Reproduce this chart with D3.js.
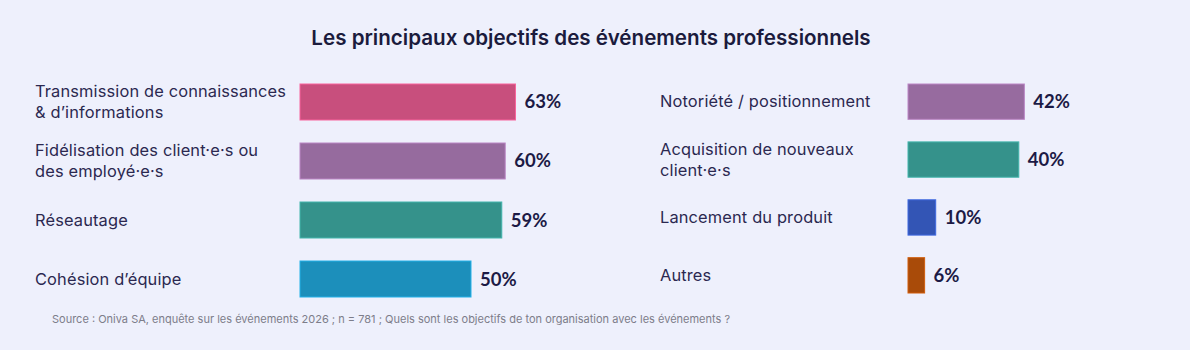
<!DOCTYPE html>
<html><head><meta charset="utf-8">
<script src="https://cdn.jsdelivr.net/npm/d3@7"></script>
<style>
html,body{margin:0;padding:0;background:#eef0fc;}
svg{display:block;}
</style></head>
<body>
<svg id="chart" width="1190" height="350"></svg>
<script>
const title = "Les principaux objectifs des événements professionnels";
const source = "Source : Oniva SA, enquête sur les événements 2026 ; n = 781 ; Quels sont les objectifs de ton organisation avec les événements ?";
const leftCats = ["Transmission de connaissances\n& d’informations", "Fidélisation des client·e·s ou\ndes employé·e·s", "Réseautage", "Cohésion d’équipe"];
const leftVals = [63, 60, 59, 50];
const leftColors = ["#c84f7d", "#966b9e", "#35928b", "#1c8fbb"];
const rightCats = ["Notoriété / positionnement", "Acquisition de nouveaux\nclient·e·s", "Lancement du produit", "Autres"];
const rightVals = [42, 40, 10, 6];
const rightColors = ["#976b9f", "#35928b", "#3355b5", "#a94b09"];

const svg = d3.select("#chart");
svg.append("rect").attr("width",1190).attr("height",350).attr("fill","#eef0fc");

svg.append("text").attr("x",591).attr("y",45).attr("text-anchor","middle")
  .attr("font-family","Inter").attr("font-weight",600).attr("font-size",20.6)
  .attr("fill","#1b1b3d").text(title);

function panel(cats, vals, colors, cfg){
  const x = d3.scaleLinear().domain([0,100]).range([cfg.barX, cfg.barX + cfg.pxPer100]);
  const y = d3.scaleBand().domain(d3.range(cats.length)).range([cfg.top, cfg.bottom]).paddingInner(cfg.pad).paddingOuter(0);
  const g = svg.append("g");
  const rows = g.selectAll("g.row").data(cats.map((c,i)=>({c, v:vals[i], col:colors[i], i}))).join("g");
  rows.append("rect")
    .attr("x", x(0)).attr("y", d=>y(d.i)).attr("width", d=>x(d.v)-x(0)).attr("height", y.bandwidth())
    .attr("fill", d=>d.col).attr("stroke", d=>d3.color(d.col).brighter(0.6)).attr("stroke-width",1);
  rows.append("text")
    .attr("x", d=>x(d.v)+9).attr("y", d=>y(d.i)+y.bandwidth()/2+6.5)
    .attr("font-family","Lato").attr("font-weight",700).attr("font-size",18.5)
    .attr("fill","#1c1a45").text(d=>d.v+"%");
  rows.each(function(d){
    const lines = d.c.split("\n");
    const cy = y(d.i)+y.bandwidth()/2;
    const lh = 21;
    const t = d3.select(this).append("text")
      .attr("font-family","Inter").attr("font-size",16.4).attr("letter-spacing",0.15).attr("fill","#2b2850");
    lines.forEach((ln,k)=>{
      t.append("tspan").attr("x", cfg.labelX)
        .attr("y", cy + 5.5 + (k - (lines.length-1)/2)*lh).text(ln);
    });
  });
}
panel(leftCats, leftVals, leftColors, {barX:300, pxPer100:342, top:84, bottom:297, pad:0.39, labelX:35});
panel(rightCats, rightVals, rightColors, {barX:908, pxPer100:277, top:84, bottom:293, pad:0.39, labelX:660});

svg.append("text").attr("x",52).attr("y",323)
  .attr("font-family","Inter").attr("font-size",11).attr("fill","#7d7d8a").text(source);
</script>
</body></html>
